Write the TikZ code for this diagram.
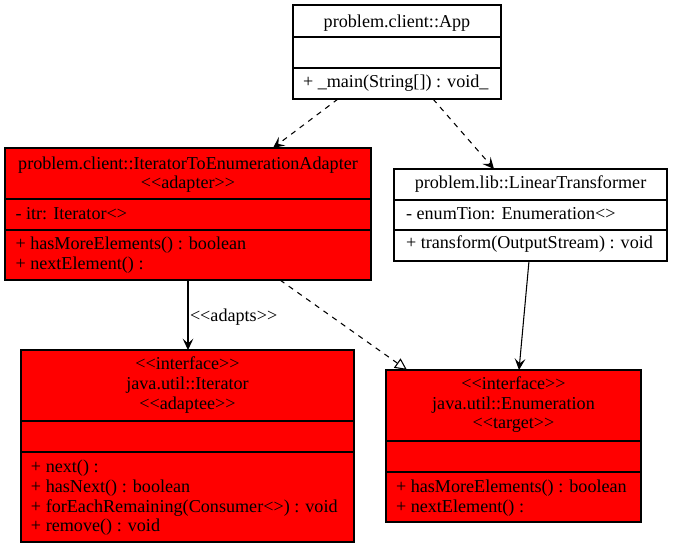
\documentclass[tikz,border=0pt]{standalone}
\usepackage{fontspec}
\setmainfont{Liberation Serif}
\usetikzlibrary{arrows.meta,calc,fit}
\newcommand\stOpen{\textless\kern0pt\textless}
\newcommand\stClose{\textgreater\kern0pt\textgreater}
\tikzset{
  classbox/.style={draw=black, line width=0.8pt, inner sep=0pt, outer sep=0pt},
  redbox/.style={classbox, fill=red},
  whitebox/.style={classbox, fill=white},
  divider/.style={draw=black, line width=0.8pt},
  txt/.style={anchor=base, inner sep=0pt, outer sep=0pt},
  ltxt/.style={anchor=base west, inner sep=0pt, outer sep=0pt},
  vee/.style={-{Stealth[length=8.5pt,width=8pt,inset=3.5pt]}},
  realize/.style={-{Triangle[open,length=9pt,width=8.5pt,fill=white]}},
  conn/.style={draw=black, line width=0.8pt},
  dashconn/.style={conn, dash pattern=on 4pt off 4pt},
}
\begin{document}
\begin{tikzpicture}[x=0.75pt, y=-0.75pt, font=\fontsize{13.6pt}{15pt}\selectfont]
\useasboundingbox (0,0) rectangle (674,548);

% ---------- App ----------
\node[whitebox, fit={(293,5) (501,99)}] (app) {};
\draw[divider] (293,37) -- (501,37);
\draw[divider] (293,68) -- (501,68);
\node[txt] (appT) at (397,28) {problem.client::App};
\node[ltxt] (appM) at (303,88) {+ \_main(String[]) : void\_};

% ---------- Adapter ----------
\node[redbox, fit={(5,148) (371,280)}] (adapter) {};
\draw[divider] (5,199) -- (371,199);
\draw[divider] (5,230) -- (371,230);
\node[txt] (adT1) at (188,170) {problem.client::IteratorToEnumerationAdapter};
\node[txt] (adT2) at (188,189) {\stOpen adapter\stClose};
\node[ltxt] (adA) at (15.5,220) {- itr: Iterator\textless\kern0pt\textgreater};
\node[ltxt] (adM1) at (15.5,250) {+ hasMoreElements() : boolean};
\node[ltxt] (adM2) at (15.5,270) {+ nextElement() :};

% ---------- LinearTransformer ----------
\node[whitebox, fit={(394,169) (667,261)}] (lt) {};
\draw[divider] (394,200) -- (667,200);
\draw[divider] (394,230) -- (667,230);
\node[txt] (ltT) at (530.5,189) {problem.lib::LinearTransformer};
\node[ltxt] (ltA) at (406,220) {- enumTion: Enumeration\textless\kern0pt\textgreater};
\node[ltxt] (ltM) at (406,249) {+ transform(OutputStream) : void};

% ---------- Iterator ----------
\node[redbox, fit={(21,350) (354,542)}] (iter) {};
\draw[divider] (21,421) -- (354,421);
\draw[divider] (21,452) -- (354,452);
\node[txt] (itT1) at (187.5,370) {\stOpen interface\stClose};
\node[txt] (itT2) at (187.5,390) {java.util::Iterator};
\node[txt] (itT3) at (187.5,410) {\stOpen adaptee\stClose};
\node[ltxt] (itM1) at (31,472) {+ next() :};
\node[ltxt] (itM2) at (31,492) {+ hasNext() : boolean};
\node[ltxt] (itM3) at (31,512) {+ forEachRemaining(Consumer\textless\kern0pt\textgreater) : void};
\node[ltxt] (itM4) at (31,531) {+ remove() : void};

% ---------- Enumeration ----------
\node[redbox, fit={(386,370) (641,522)}] (enum) {};
\draw[divider] (386,441) -- (641,441);
\draw[divider] (386,472) -- (641,472);
\node[txt] (enT1) at (513.5,390) {\stOpen interface\stClose};
\node[txt] (enT2) at (513.5,410) {java.util::Enumeration};
\node[txt] (enT3) at (513.5,429) {\stOpen target\stClose};
\node[ltxt] (enM1) at (396,492) {+ hasMoreElements() : boolean};
\node[ltxt] (enM2) at (396,512) {+ nextElement() :};

% ---------- Connectors ----------
\draw[dashconn, vee] ($(app.south west)+(45,0)$) -- ($(adapter.north west)+(268,0)$);
\draw[dashconn, vee] ($(app.south west)+(140,0)$) -- ($(lt.north west)+(100,0)$);
\draw[conn, vee] ($(adapter.south west)+(183,0)$) -- ($(iter.north west)+(167,0)$)
  node[ltxt, pos=0.5, xshift=1.5pt, yshift=-5pt] (adaptsLbl) {\stOpen adapts\stClose};
\draw[dashconn, realize] ($(adapter.south west)+(275,0)$) -- ($(enum.north west)+(21,0)$);
\draw[conn, vee] ($(lt.south west)+(135,0)$) -- ($(enum.north west)+(133,0)$);
\end{tikzpicture}
\end{document}
